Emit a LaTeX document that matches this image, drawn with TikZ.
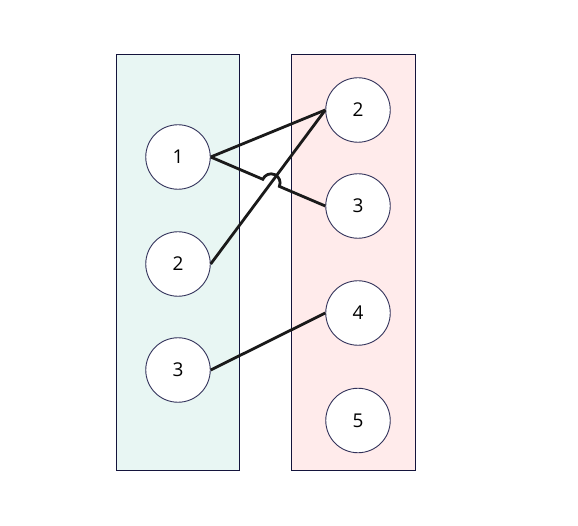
\documentclass[tikz,border=0pt]{standalone}
\usepackage{fontspec}
\setmainfont{Open Sans}
\usetikzlibrary{calc,intersections}
\definecolor{leftfill}{RGB}{232,246,243}
\definecolor{rightfill}{RGB}{255,235,235}
\definecolor{framecol}{RGB}{20,20,60}
\definecolor{ringcol}{RGB}{50,50,90}
\definecolor{linkcol}{RGB}{26,26,26}
\begin{document}
\begin{tikzpicture}[x=1pt,y=1pt,
  panel/.style={draw=framecol,line width=0.9pt},
  vertex/.style={circle,draw=ringcol,fill=white,line width=0.9pt,minimum size=64.5pt,inner sep=0pt,
    font=\fontsize{19}{22}\selectfont},
  link/.style={draw=linkcol,line width=2.8pt}]
\useasboundingbox (0,0) rectangle (578,525);
% two panels
\path[panel,fill=leftfill] (116.5,54.5) rectangle (239.5,470.5);
\path[panel,fill=rightfill] (291.5,54.5) rectangle (415.5,470.5);
% left column
\node[vertex] (l1) at (178,368) {1};
\node[vertex] (l2) at (178,261) {2};
\node[vertex] (l3) at (178,155) {3};
% right column
\node[vertex] (r2) at (358,415) {2};
\node[vertex] (r3) at (358,319) {3};
\node[vertex] (r4) at (358,212) {4};
\node[vertex] (r5) at (358,104.5) {5};
% links
\draw[link] (l1.east) -- (r2.west);
\draw[link] (l2.east) -- (r2.west);
\draw[link] (l3.east) -- (r4.west);
\path[name path=hopline] (l1.east) -- (r3.west);
\path[name path=crossline] (l2.east) -- (r2.west);
\path[name intersections={of=hopline and crossline,by=X}];
\draw[link] (l1.east) -- ($(X)!9pt!(l1.east)$)
  arc[start angle=156.7,end angle=-23.3,radius=9pt] -- (r3.west);
\end{tikzpicture}
\end{document}
